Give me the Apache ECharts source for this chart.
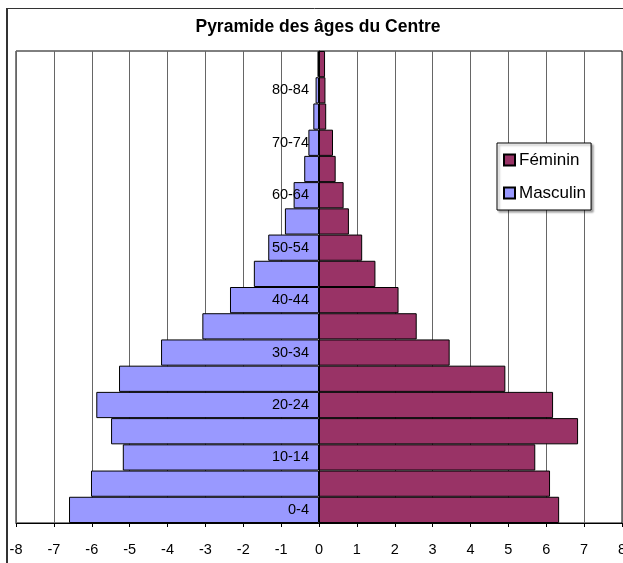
<!DOCTYPE html>
<html>
<head>
<meta charset="utf-8">
<script src="https://cdn.jsdelivr.net/npm/echarts@6/dist/echarts.min.js"></script>
<style>html,body{margin:0;padding:0;background:#fff;}#chart{width:623px;height:563px;}</style>
</head>
<body>
<div id="chart"></div>
<script>
const categories = ['0-4','5-9','10-14','15-19','20-24','25-29','30-34','35-39','40-44','45-49','50-54','55-59','60-64','65-69','70-74','75-79','80-84','85+'];
const masculin = [6.6, 6.02, 5.18, 5.49, 5.88, 5.28, 4.17, 3.08, 2.35, 1.72, 1.34, 0.9, 0.67, 0.39, 0.28, 0.15, 0.09, 0.04];
const feminin = [6.34, 6.10, 5.71, 6.84, 6.18, 4.92, 3.45, 2.58, 2.10, 1.49, 1.14, 0.79, 0.65, 0.44, 0.37, 0.19, 0.17, 0.16];
const xTicks = {min: -8, max: 8, interval: 1};

const chart = echarts.init(document.getElementById('chart'), null, {renderer: 'canvas'});
const font = 'Liberation Sans, Arial, sans-serif';
const gridLeft = 16, gridWidth = 606;
chart.setOption({
  animation: false,
  backgroundColor: '#fff',
  title: {
    text: 'Pyramide des âges du Centre',
    left: 318, top: 18, textAlign: 'center', padding: 0,
    textStyle: {fontFamily: font, fontSize: 17.5, fontWeight: 'bold', color: '#000'}
  },
  legend: {
    orient: 'vertical', left: 497, top: 143,
    padding: [7, 5, 7, 6], itemGap: 13, itemWidth: 11, itemHeight: 11,
    borderColor: '#000', borderWidth: 1, backgroundColor: '#fff',
    shadowColor: 'rgba(0,0,0,0.35)', shadowOffsetX: 2, shadowOffsetY: 2, shadowBlur: 2,
    data: [{name: 'Féminin', icon: 'rect'}, {name: 'Masculin', icon: 'rect'}],
    textStyle: {fontFamily: font, fontSize: 17, color: '#000', lineHeight: 20, padding: [0, 0, 0, -1]}
  },
  grid: {left: gridLeft, width: gridWidth, top: 51, bottom: 40, show: true, borderColor: '#000', borderWidth: 1, containLabel: false, outerBoundsMode: 'none'},
  xAxis: {
    type: 'value', min: xTicks.min, max: xTicks.max, interval: xTicks.interval,
    axisLine: {show: true, lineStyle: {color: '#000', width: 1}},
    axisTick: {show: true, length: 4, lineStyle: {color: '#000'}},
    axisLabel: {fontFamily: font, fontSize: 14.5, color: '#000', margin: 19, showMinLabel: true, showMaxLabel: true},
    splitLine: {show: true, lineStyle: {color: '#666', width: 1}}
  },
  yAxis: {
    type: 'category', data: categories, z: 10,
    position: 'left',
    offset: -gridWidth * (0 - xTicks.min) / (xTicks.max - xTicks.min),
    axisLine: {show: true, onZero: false, lineStyle: {color: '#000', width: 1}},
    axisTick: {show: false},
    axisLabel: {interval: 1, fontFamily: font, fontSize: 14.5, color: '#000', margin: 10},
    splitLine: {show: false}
  },
  series: [
    {
      name: 'Féminin', type: 'bar', stack: 'pop', barCategoryGap: 0, barWidth: '100%',
      itemStyle: {color: '#993366', borderColor: '#000', borderWidth: 1},
      data: feminin
    },
    {
      name: 'Masculin', type: 'bar', stack: 'pop', barCategoryGap: 0, barWidth: '100%',
      itemStyle: {color: '#9999FF', borderColor: '#000', borderWidth: 1},
      data: masculin.map(v => -v)
    }
  ],
  graphic: [
    {type: 'line', shape: {x1: 7, y1: 8, x2: 7, y2: 563}, style: {stroke: '#333', lineWidth: 2}, silent: true},
    {type: 'line', shape: {x1: 6, y1: 8.5, x2: 623, y2: 8.5}, style: {stroke: '#333', lineWidth: 1}, silent: true}
  ]
});
</script>
</body>
</html>
